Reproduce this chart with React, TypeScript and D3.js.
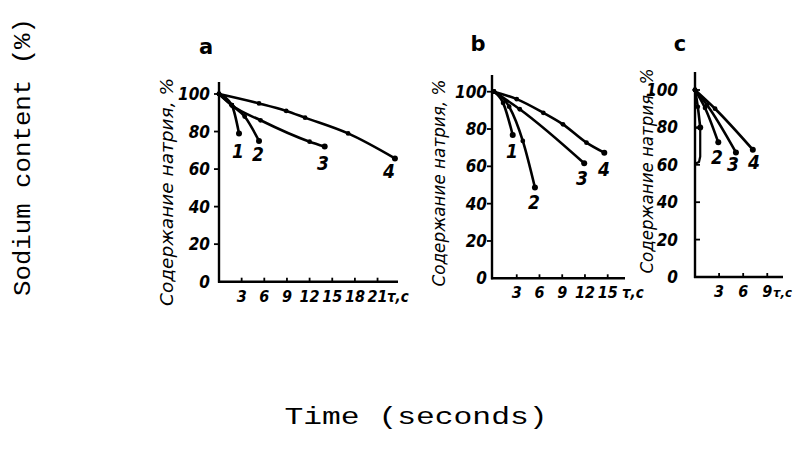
import React from "react";
import * as d3 from "d3";

type Pt = [number, number];

// ---- data ----
const yTicks = [0, 20, 40, 60, 80, 100];
const xTicksA = [3, 6, 9, 12, 15, 18, 21];
const xTicksB = [3, 6, 9, 12, 15];
const xTicksC = [3, 6, 9];

const a1: Pt[] = [[0, 100], [1.7, 94], [2.65, 79]];
const a2: Pt[] = [[0, 100], [1.7, 94], [3.4, 88], [5.3, 75]];
const a3: Pt[] = [[0, 100], [1.7, 94], [5.5, 86], [12, 74.6], [14, 72]];
const a4: Pt[] = [[0, 100], [5.3, 95], [8.9, 91], [11.4, 87.4], [17.1, 79], [23.3, 65.7]];

const b1: Pt[] = [[0, 100], [1.2, 94], [2.47, 76.8]];
const b2: Pt[] = [[0, 100], [2, 92], [3.8, 73.6], [5.4, 48.6]];
const b3: Pt[] = [[0, 100], [3.4, 90.6], [11.9, 61.6]];
const b4: Pt[] = [[0, 100], [3.0, 96], [6.5, 88.7], [9.1, 82.5], [12.2, 72.7], [14.55, 67.3]];

const c1: Pt[] = [[0, 100], [0.35, 91], [0.65, 80]];
const c2: Pt[] = [[0, 100], [1.25, 90.4], [2.9, 72]];
const c3: Pt[] = [[0, 100], [1.5, 92], [5.1, 66.6]];
const c4: Pt[] = [[0, 100], [2.5, 90], [7.2, 68.1]];
const cBracket: Pt[] = [[0, 79.8], [0.65, 79.8], [0.65, 64.4], [0.5, 61.5], [0, 60.5]];

const curveNames = ["1", "2", "3", "4"];

const tickFont = "'DejaVu Sans Condensed', 'DejaVu Sans', sans-serif";

interface PanelCfg {
  letter: string;
  letterX: number;
  letterY: number;
  series: Pt[][];
  extra?: Pt[];
  xTicks: number[];
  xMax: number;
  x0: number;
  unit: number;
  yAxisX: number;
  y0: number;
  y100: number;
  yTop: number;
  xEnd: number;
  yLabelGap: number;
  yTickRight: boolean;
  labelPos: (Pt | null)[];
  titleX: number;
  titleY: number;
  titleLen: number;
  unitX: number;
  unitSize: number;
}

const panels: PanelCfg[] = [
  {
    letter: "a", letterX: 206, letterY: 54,
    series: [a1, a2, a3, a4], xTicks: xTicksA, xMax: 24,
    x0: 219, unit: 7.55, yAxisX: 219, y0: 281.7, y100: 94, yTop: 82, xEnd: 398,
    yLabelGap: 9, yTickRight: false,
    labelPos: [[238, 151], [258, 154], [323, 163], [389, 171]],
    titleX: 168, titleY: 192, titleLen: 228, unitX: 387, unitSize: 15,
  },
  {
    letter: "b", letterX: 478, letterY: 51,
    series: [b1, b2, b3, b4], xTicks: xTicksB, xMax: 17,
    x0: 494, unit: 7.58, yAxisX: 492, y0: 278.3, y100: 91.7, yTop: 75, xEnd: 625,
    yLabelGap: 5, yTickRight: false,
    labelPos: [[512, 151], [534, 202], [582, 178], [604, 169]],
    titleX: 440, titleY: 183, titleLen: 207, unitX: 622, unitSize: 15,
  },
  {
    letter: "c", letterX: 680, letterY: 51,
    series: [c1, c2, c3, c4], extra: cBracket, xTicks: xTicksC, xMax: 11,
    x0: 695, unit: 8.03, yAxisX: 695, y0: 277, y100: 90, yTop: 72, xEnd: 783,
    yLabelGap: 17, yTickRight: true,
    labelPos: [null, [717, 157], [733, 164], [754, 162]],
    titleX: 648, titleY: 171, titleLen: 205, unitX: 773, unitSize: 13,
  },
];

function Panel({ p }: { p: PanelCfg }) {
  const x = d3.scaleLinear().domain([0, p.xMax]).range([p.x0, p.x0 + p.unit * p.xMax]);
  const y = d3.scaleLinear().domain([0, 100]).range([p.y0, p.y100]);
  const line = d3
    .line<Pt>()
    .x((d) => x(d[0]))
    .y((d) => y(d[1]))
    .curve(d3.curveMonotoneX);
  const poly = d3
    .line<Pt>()
    .x((d) => Math.max(p.yAxisX, x(d[0])))
    .y((d) => y(d[1]))
    .curve(d3.curveLinear);
  return (
    <g>
      <text x={p.letterX} y={p.letterY} fontFamily="'DejaVu Sans', sans-serif" fontWeight="bold" fontSize={21} textAnchor="middle">
        {p.letter}
      </text>
      {/* axes */}
      <line x1={p.yAxisX} x2={p.yAxisX} y1={p.yTop} y2={p.y0 + 1} stroke="#000" strokeWidth={2.4} />
      <line x1={p.yAxisX - 1} x2={p.xEnd} y1={p.y0} y2={p.y0} stroke="#000" strokeWidth={2.4} />
      {yTicks.map((t) => (
        <g key={t}>
          {t > 0 && (
            <line
              x1={p.yAxisX}
              x2={p.yAxisX + (p.yTickRight ? 5 : -5)}
              y1={y(t)}
              y2={y(t)}
              stroke="#000"
              strokeWidth={1.8}
            />
          )}
          <text
            x={p.yAxisX - p.yLabelGap}
            y={y(t) + 6}
            textAnchor="end"
            fontFamily={tickFont}
            fontStyle="italic"
            fontWeight="bold"
            fontSize={17}
          >
            {t}
          </text>
        </g>
      ))}
      {p.xTicks.map((t) => (
        <g key={t}>
          <line x1={x(t)} x2={x(t)} y1={p.y0} y2={p.y0 - 4} stroke="#000" strokeWidth={1.8} />
          <text
            x={x(t)}
            y={p.y0 + 20}
            textAnchor="middle"
            fontFamily={tickFont}
            fontStyle="italic"
            fontWeight="bold"
            fontSize={16}
          >
            {t}
          </text>
        </g>
      ))}
      <text x={p.unitX} y={p.y0 + 20} fontFamily={tickFont} fontStyle="italic" fontWeight="bold" fontSize={p.unitSize}>
        τ,c
      </text>
      <text
        transform={`translate(${p.titleX},${p.titleY}) rotate(-90)`}
        textAnchor="middle"
        dominantBaseline="middle"
        fontFamily={tickFont}
        fontStyle="italic"
        fontSize={18}
        textLength={p.titleLen}
        lengthAdjust="spacingAndGlyphs"
      >
        Содержание натрия, %
      </text>
      {/* curves */}
      {p.series.map((s, i) => (
        <g key={i}>
          <path d={line(s) || ""} fill="none" stroke="#000" strokeWidth={2.6} strokeLinecap="round" />
          {s.map((d, j) => (
            <circle key={j} cx={x(d[0])} cy={y(d[1])} r={j === s.length - 1 ? 3 : 2.4} fill="#000" />
          ))}
          {p.labelPos[i] && (
            <text
              x={p.labelPos[i]![0]}
              y={p.labelPos[i]![1] + 7}
              textAnchor="middle"
              fontFamily={tickFont}
              fontStyle="italic"
              fontWeight="bold"
              fontSize={19}
            >
              {curveNames[i]}
            </text>
          )}
        </g>
      ))}
      {p.extra && <path d={poly(p.extra) || ""} fill="none" stroke="#000" strokeWidth={2.2} />}
    </g>
  );
}

export default function App() {
  return (
    <svg width={796} height={454} style={{ display: "block", position: "absolute", left: 0, top: 0 }}>
      <rect width={796} height={454} fill="#fff" />
      <text
        transform="translate(24,157) rotate(-90)"
        textAnchor="middle"
        dominantBaseline="middle"
        fontFamily="'Liberation Mono', monospace"
        fontSize={24}
        textLength={278}
        lengthAdjust="spacingAndGlyphs"
      >
        Sodium content (%)
      </text>
      <text
        x={416}
        y={424}
        textAnchor="middle"
        fontFamily="'Liberation Mono', monospace"
        fontSize={24}
        textLength={263}
        lengthAdjust="spacingAndGlyphs"
      >
        Time (seconds)
      </text>
      {panels.map((p) => (
        <Panel key={p.letter} p={p} />
      ))}
    </svg>
  );
}
